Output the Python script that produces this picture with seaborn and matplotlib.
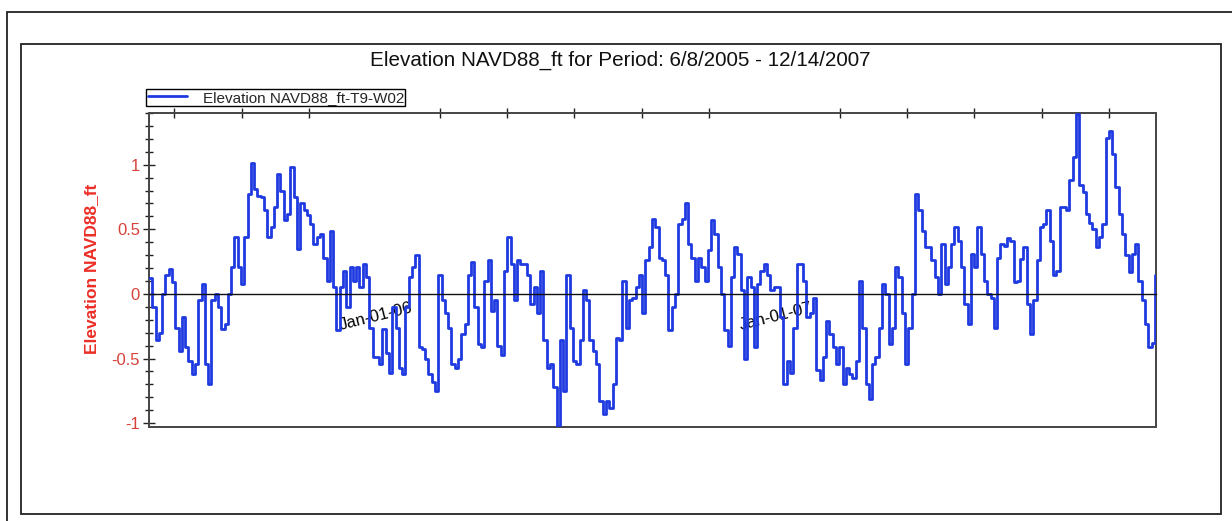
import pandas as pd
import numpy as np
import matplotlib
matplotlib.use("Agg")
import matplotlib.pyplot as plt
import matplotlib.dates as mdates
from matplotlib.patches import Rectangle
from matplotlib.ticker import MultipleLocator, FuncFormatter
import seaborn as sns

# values, one every 3 days from 6/8/2005
start_date = "2005-06-08"
end_date = "2007-12-14"
series_name = "Elevation NAVD88_ft-T9-W02"
elev = [
    0.12, -0.10, -0.36, -0.30, 0.0, 0.15, 0.19, 0.09, -0.26, -0.44,
    -0.18, -0.41, -0.52, -0.62, -0.54, -0.05, 0.08, -0.54, -0.70, -0.05,
    0.0, -0.10, -0.27, -0.23, 0.0, 0.21, 0.44, 0.21, 0.08, 0.44,
    0.77, 1.01, 0.81, 0.76, 0.75, 0.65, 0.44, 0.52, 0.67, 0.93,
    0.80, 0.57, 0.62, 0.98, 0.75, 0.35, 0.70, 0.65, 0.61, 0.54,
    0.39, 0.44, 0.46, 0.28, 0.10, 0.49, 0.05, -0.28, 0.05, 0.18,
    -0.10, 0.21, 0.10, 0.21, 0.05, 0.23, 0.13, -0.26, -0.49, -0.49,
    -0.54, -0.27, -0.46, -0.61, -0.10, -0.26, -0.57, -0.62, -0.10, 0.13,
    0.21, 0.30, -0.41, -0.43, -0.50, -0.62, -0.68, -0.75, 0.15, -0.05,
    -0.15, -0.26, -0.54, -0.57, -0.50, -0.31, -0.23, 0.15, 0.25, -0.10,
    -0.39, -0.41, 0.10, 0.26, -0.13, -0.05, -0.40, -0.47, 0.18, 0.44,
    0.23, -0.05, 0.26, 0.23, 0.23, 0.15, -0.08, 0.05, -0.15, 0.18,
    -0.36, -0.57, -0.54, -0.72, -1.02, -0.36, -0.75, 0.15, -0.26, -0.52,
    -0.54, -0.36, 0.03, -0.05, -0.36, -0.44, -0.54, -0.83, -0.93, -0.83,
    -0.88, -0.70, -0.34, -0.36, 0.10, -0.26, -0.05, -0.03, 0.05, 0.15,
    -0.15, 0.26, 0.36, 0.58, 0.52, 0.28, 0.26, 0.15, -0.28, -0.10,
    0.0, 0.54, 0.58, 0.70, 0.39, 0.28, 0.10, 0.28, 0.21, 0.10,
    0.34, 0.57, 0.46, 0.21, 0.0, -0.28, -0.40, 0.13, 0.36, 0.31,
    0.03, -0.50, 0.13, 0.05, -0.41, 0.08, 0.18, 0.23, 0.15, 0.03,
    0.05, 0.05, -0.18, -0.70, -0.52, -0.61, -0.26, 0.23, 0.23, 0.10,
    -0.18, -0.15, -0.03, -0.59, -0.67, -0.49, -0.21, -0.31, -0.41, -0.54,
    -0.41, -0.70, -0.57, -0.62, -0.65, -0.52, 0.10, -0.26, -0.70, -0.81,
    -0.54, -0.49, -0.26, 0.08, 0.0, -0.39, -0.26, 0.21, 0.13, -0.15,
    -0.54, -0.26, 0.0, 0.77, 0.65, 0.49, 0.36, 0.36, 0.26, 0.13,
    0.0, 0.39, 0.08, 0.21, 0.39, 0.52, 0.41, 0.21, -0.08, -0.23,
    0.31, 0.21, 0.52, 0.31, 0.10, 0.0, -0.03, -0.26, 0.28, 0.39,
    0.37, 0.43, 0.41, 0.09, 0.10, 0.27, 0.36, -0.08, -0.31, -0.05,
    0.26, 0.52, 0.54, 0.65, 0.41, 0.15, 0.18, 0.67, 0.67, 0.65,
    0.88, 1.06, 1.39, 0.84, 0.79, 0.62, 0.55, 0.50, 0.36, 0.44,
    0.54, 1.21, 1.26, 1.08, 0.83, 0.62, 0.46, 0.30, 0.17, 0.31,
    0.39, 0.10, -0.05, -0.23, -0.41, -0.38, 0.15,
]
dates = pd.date_range(start_date, periods=len(elev), freq="3D")
df = pd.DataFrame({"date": dates, "elev": elev})

sns.set_theme(style="white")
plt.rcParams["font.family"] = ["Liberation Sans", "DejaVu Sans"]

fig = plt.figure(figsize=(12.32, 5.21), dpi=100)
ax = fig.add_axes([149 / 1232, 94 / 521, 1007 / 1232, 314 / 521])

sns.lineplot(data=df, x="date", y="elev", ax=ax, color="#1f3ae0", lw=2.0,
             drawstyle="steps-post", estimator=None, label=series_name)

ax.set_xlim(pd.Timestamp(start_date), pd.Timestamp(end_date))
ax.set_ylim(-1.03, 1.40)

# frame panels
fig.add_artist(Rectangle((7 / 1232, -0.1), 2, 1.1 - 12 / 521, transform=fig.transFigure,
                         fill=False, ec="#222222", lw=1.3))
fig.add_artist(Rectangle((21 / 1232, 7 / 521), 1200 / 1232, 470 / 521, transform=fig.transFigure,
                         fill=False, ec="#222222", lw=1.3))

for s in ["left", "top", "right"]:
    ax.spines[s].set_visible(False)
ax.spines["bottom"].set_position(("data", 0))
ax.spines["bottom"].set_color("#111111")
ax.spines["bottom"].set_linewidth(1.0)
ax.add_patch(Rectangle((0, 0), 1, 1, transform=ax.transAxes, fill=False,
                       ec="#444444", lw=1.4, clip_on=False))

# x ticks: january labelled, other months every two
ax.xaxis.set_major_locator(mdates.MonthLocator(bymonth=[1]))
ax.xaxis.set_minor_locator(mdates.MonthLocator(bymonth=[3, 5, 7, 9, 11]))
ax.xaxis.set_major_formatter(mdates.DateFormatter("%b-%d-%y"))
ax.tick_params(axis="x", which="both", direction="inout", length=7, width=1,
               color="#222222", labelsize=12, pad=1, labelcolor="black")
ax.tick_params(axis="x", which="minor", top=True)
for lab in ax.get_xticklabels():
    lab.set_rotation(14)
    lab.set_ha("center")

# y ticks
ax.yaxis.set_major_locator(MultipleLocator(0.5))
ax.yaxis.set_minor_locator(MultipleLocator(0.1))
ax.yaxis.set_major_formatter(FuncFormatter(lambda v, p: f"{v:g}"))
ax.tick_params(axis="y", which="major", left=True, direction="inout", length=9,
               width=1, color="#222222", labelsize=12, labelcolor="#d8413a", pad=2)
ax.tick_params(axis="y", which="minor", left=True, direction="inout", length=6,
               width=1, color="#222222")

ax.set_xlabel("")
ax.set_ylabel("Elevation NAVD88_ft", color="#ec2e26", fontsize=12.5, fontweight="bold")
ax.yaxis.set_label_coords(-0.05, 0.505)

fig.text(620 / 1232, 1 - 60 / 521, "Elevation NAVD88_ft for Period: 6/8/2005 - 12/14/2007",
         ha="center", va="center", fontsize=14.9, color="#111111")

ax.legend(loc="upper left", bbox_to_anchor=(-0.003, 1.0764), frameon=True, fancybox=False,
          edgecolor="black", framealpha=1, borderpad=0.1, handlelength=2.6,
          handletextpad=1.0, fontsize=11, borderaxespad=0)
ax.get_legend().get_frame().set_linewidth(1.0)

plt.savefig("out.png", dpi=100)
